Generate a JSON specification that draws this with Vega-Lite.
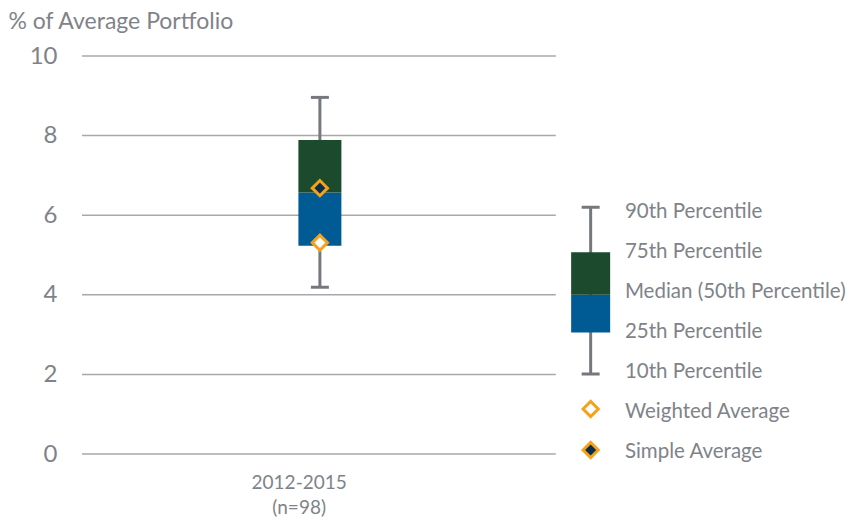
{
  "$schema": "https://vega.github.io/schema/vega-lite/v6.json",
  "autosize": "none",
  "width": 775,
  "height": 398,
  "padding": {"left": 77, "top": 56, "right": 0, "bottom": 66},
  "background": "white",
  "config": {"view": {"stroke": null}, "font": "Lato"},
  "datasets": {
    "boxes": [
      {"grp": "main", "pos": 2.41, "p10": 4.19, "p25": 5.23, "p50": 6.57, "p75": 7.89, "p90": 8.96, "simple": 6.68, "weighted": 5.31},
      {"grp": "legend", "pos": 5.153, "p10": 2.01, "p25": 3.05, "p50": 4.0, "p75": 5.07, "p90": 6.2, "simple": 0.1, "weighted": 1.13}
    ],
    "grid": [{"v": 0}, {"v": 2}, {"v": 4}, {"v": 6}, {"v": 8}, {"v": 10}],
    "labels": [
      {"label": "90th Percentile", "y": 6.08},
      {"label": "75th Percentile", "y": 5.07},
      {"label": "Median (50th Percentile)", "y": 4.07},
      {"label": "25th Percentile", "y": 3.07},
      {"label": "10th Percentile", "y": 2.06},
      {"label": "Weighted Average", "y": 1.06},
      {"label": "Simple Average", "y": 0.06}
    ],
    "xlab": [
      {"label": "2012-2015", "y": -0.73},
      {"label": "(n=98)", "y": -1.36}
    ]
  },
  "layer": [
    {
      "data": {"name": "grid"},
      "mark": {"type": "rule", "color": "#a6a8ac", "strokeWidth": 1.5},
      "encoding": {
        "y": {"field": "v", "type": "quantitative", "scale": {"domain": [0, 10], "nice": false},
          "axis": {"values": [0, 2, 4, 6, 8, 10], "grid": false, "domain": false, "ticks": false, "labelPadding": 20,
            "labelFontSize": 24, "labelColor": "#7f8389", "labelFont": "Lato",
            "title": "% of Average Portfolio", "titleAngle": 0, "titleAlign": "left", "titleBaseline": "alphabetic",
            "titleX": -69, "titleY": -28, "titleFontSize": 23, "titleFontWeight": "normal", "titleColor": "#7f8389", "titleFont": "Lato"}},
        "x": {"datum": 0, "type": "quantitative", "scale": {"domain": [0, 7.75], "nice": false, "zero": false}, "axis": null},
        "x2": {"datum": 4.8}
      }
    },
    {
      "data": {"name": "boxes"},
      "mark": {"type": "rule", "color": "#75787e", "strokeWidth": 3},
      "encoding": {
        "x": {"field": "pos", "type": "quantitative"},
        "y": {"field": "p10", "type": "quantitative"},
        "y2": {"field": "p90"}
      }
    },
    {
      "data": {"name": "boxes"},
      "mark": {"type": "tick", "orient": "horizontal", "color": "#75787e", "thickness": 3, "size": 18, "opacity": 1},
      "encoding": {
        "x": {"field": "pos", "type": "quantitative"},
        "y": {"field": "p90", "type": "quantitative"}
      }
    },
    {
      "data": {"name": "boxes"},
      "mark": {"type": "tick", "orient": "horizontal", "color": "#75787e", "thickness": 3, "size": 18, "opacity": 1},
      "encoding": {
        "x": {"field": "pos", "type": "quantitative"},
        "y": {"field": "p10", "type": "quantitative"}
      }
    },
    {
      "data": {"name": "boxes"},
      "mark": {"type": "bar", "color": "#005a94"},
      "encoding": {
        "x": {"field": "pos", "type": "quantitative"},
        "y": {"field": "p25", "type": "quantitative"},
        "y2": {"field": "p50"},
        "size": {"field": "grp", "type": "nominal", "scale": {"domain": ["main", "legend"], "range": [43, 39]}, "legend": null}
      }
    },
    {
      "data": {"name": "boxes"},
      "mark": {"type": "bar", "color": "#1c4a2c"},
      "encoding": {
        "x": {"field": "pos", "type": "quantitative"},
        "y": {"field": "p50", "type": "quantitative"},
        "y2": {"field": "p75"},
        "size": {"field": "grp", "type": "nominal", "scale": {"domain": ["main", "legend"], "range": [43, 39]}, "legend": null}
      }
    },
    {
      "data": {"name": "boxes"},
      "mark": {"type": "point", "shape": "diamond", "filled": true, "fill": "#0b2d4c", "stroke": "#f5a21b", "strokeWidth": 3, "size": 230, "opacity": 1},
      "encoding": {
        "x": {"field": "pos", "type": "quantitative"},
        "y": {"field": "simple", "type": "quantitative"}
      }
    },
    {
      "data": {"name": "boxes"},
      "mark": {"type": "point", "shape": "diamond", "filled": true, "fill": "white", "stroke": "#f5a21b", "strokeWidth": 3, "size": 230, "opacity": 1},
      "encoding": {
        "x": {"field": "pos", "type": "quantitative"},
        "y": {"field": "weighted", "type": "quantitative"}
      }
    },
    {
      "data": {"name": "labels"},
      "mark": {"type": "text", "align": "left", "baseline": "middle", "fontSize": 20.5, "color": "#7f8389", "font": "Lato"},
      "encoding": {
        "x": {"datum": 5.5, "type": "quantitative"},
        "y": {"field": "y", "type": "quantitative"},
        "text": {"field": "label"}
      }
    },
    {
      "data": {"name": "xlab"},
      "mark": {"type": "text", "align": "center", "baseline": "middle", "fontSize": 19, "color": "#7f8389", "font": "Lato"},
      "encoding": {
        "x": {"datum": 2.2, "type": "quantitative"},
        "y": {"field": "y", "type": "quantitative"},
        "text": {"field": "label"}
      }
    }
  ]
}
